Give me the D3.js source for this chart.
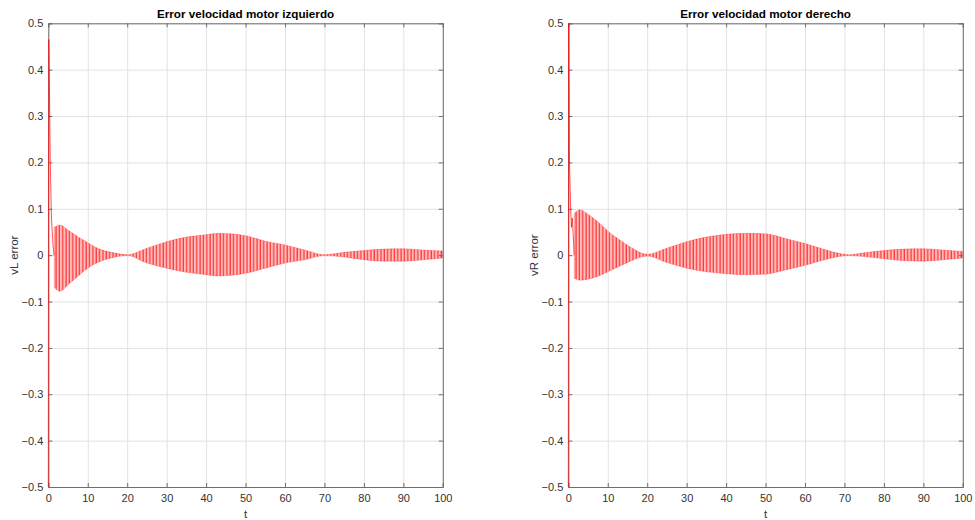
<!DOCTYPE html>
<html>
<head>
<meta charset="utf-8">
<script src="https://cdn.jsdelivr.net/npm/d3@7"></script>
<style>
  body { margin: 0; background: #fff; }
  svg { font-family: "Liberation Sans", Arial, sans-serif; }
  .tick text { fill: #333; font-size: 11px; }
  .grid line { stroke: #e2e2e2; }
  .grid path { display: none; }
  .box path, .box line { stroke: #6e6e6e; }
</style>
</head>
<body>
<script>
// ticks
const tTicks = [0, 10, 20, 30, 40, 50, 60, 70, 80, 90, 100];
const eTicks = [-0.5, -0.4, -0.3, -0.2, -0.1, 0, 0.1, 0.2, 0.3, 0.4, 0.5];

// left motor: start-up transient, then envelope of the oscillation
const leftTransT = [0, 0.05, 0.12, 0.3, 0.5, 0.8, 1.2, 1.5];
const leftTransV = [-0.5, 0.2, 0.465, 0.35, 0.2, 0.08, 0.02, 0.0];
const leftEnvT = [1.5, 3, 5, 8, 10, 13, 16, 20, 25, 30, 35, 40, 43, 50, 55, 60, 65, 70, 75, 80, 85, 90, 95, 100];
const leftUpper = [0.06, 0.065, 0.054, 0.037, 0.027, 0.013, 0.006, 0.001, 0.015, 0.029, 0.039, 0.044, 0.047, 0.042, 0.03, 0.022, 0.011, 0.001, 0.006, 0.01, 0.013, 0.014, 0.011, 0.009];
const leftLower = [-0.07, -0.078, -0.064, -0.042, -0.028, -0.014, -0.006, -0.001, -0.017, -0.028, -0.037, -0.042, -0.045, -0.039, -0.028, -0.017, -0.01, -0.001, -0.004, -0.01, -0.013, -0.013, -0.01, -0.006];

// right motor
const rightTransT = [0, 0.05, 0.1, 0.3, 0.6, 0.8, 1.0, 1.2, 1.5];
const rightTransV = [-0.5, 0.1, 0.5, 0.2, 0.1, 0.06, 0.08, 0.05, 0.0];
const rightEnvT = [1.5, 3, 5, 8, 10, 13, 16, 20, 25, 30, 35, 40, 45, 50, 55, 60, 65, 71, 75, 80, 85, 90, 95, 100];
const rightUpper = [0.09, 0.098, 0.088, 0.068, 0.052, 0.033, 0.016, 0.002, 0.015, 0.029, 0.039, 0.045, 0.047, 0.046, 0.036, 0.025, 0.012, 0.001, 0.005, 0.01, 0.013, 0.014, 0.011, 0.008];
const rightLower = [-0.05, -0.054, -0.052, -0.044, -0.036, -0.024, -0.012, -0.002, -0.016, -0.028, -0.036, -0.04, -0.042, -0.041, -0.032, -0.022, -0.01, -0.001, -0.003, -0.008, -0.012, -0.013, -0.01, -0.006];

const panels = [
    {left: 48.3, title: 'Error velocidad motor izquierdo', ylabel: 'vL error',
        transT: leftTransT, transV: leftTransV, envT: leftEnvT, upper: leftUpper, lower: leftLower},
    {left: 568.3, title: 'Error velocidad motor derecho', ylabel: 'vR error',
        transT: rightTransT, transV: rightTransV, envT: rightEnvT, upper: rightUpper, lower: rightLower}
];

const marginTop = 23.3, width = 394.5, height = 463.7;

const svg = d3.select('body').append('svg')
    .attr('width', 975)
    .attr('height', 520);

const defs = svg.append('defs');

// dense oscillation rendered as vertical strokes
const pat = defs.append('pattern')
    .attr('id', 'osc')
    .attr('patternUnits', 'userSpaceOnUse')
    .attr('width', 3.35)
    .attr('height', 520);
pat.append('rect')
    .attr('width', 3.35)
    .attr('height', 520)
    .attr('fill', '#ffbcbc');
pat.append('line')
    .attr('x1', 1).attr('x2', 1)
    .attr('y1', 0).attr('y2', 520)
    .attr('stroke', '#ff1414')
    .attr('stroke-width', 1);

panels.forEach((p, k) => {
    const x = d3.scaleLinear().domain([0, 100]).range([0, width]);
    const y = d3.scaleLinear().domain([-0.5, 0.5]).range([height, 0]);

    defs.append('clipPath')
        .attr('id', 'clip' + k)
        .append('rect')
        .attr('x', -1.5)
        .attr('width', width + 1.5)
        .attr('height', height);

    const g = svg.append('g')
        .attr('transform', `translate(${p.left}, ${marginTop})`);

    g.append('g')
        .attr('class', 'grid')
        .call(d3.axisBottom(x).tickValues(tTicks).tickSize(height).tickFormat(''));
    g.append('g')
        .attr('class', 'grid')
        .call(d3.axisLeft(y).tickValues(eTicks).tickSize(-width).tickFormat(''));

    const env = p.envT.map((t, i) => ({t, hi: p.upper[i], lo: p.lower[i]}));
    const area = d3.area()
        .curve(d3.curveMonotoneX)
        .x(d => x(d.t))
        .y0(d => y(d.lo))
        .y1(d => y(d.hi));

    g.append('path')
        .datum(env)
        .attr('d', area)
        .attr('fill', 'url(#osc)')
        .attr('stroke', 'rgba(255,0,0,0.35)')
        .attr('stroke-width', 0.7);

    g.append('g')
        .attr('class', 'box')
        .attr('transform', `translate(0, ${height})`)
        .call(d3.axisBottom(x).tickValues(tTicks).tickSize(-4).tickPadding(7));
    g.append('g')
        .attr('class', 'box')
        .call(d3.axisLeft(y).tickValues(eTicks).tickSize(-4).tickPadding(5)
            .tickFormat(d => d === 0 ? '0' : d3.format('.1f')(d)));
    g.append('g')
        .attr('class', 'box')
        .call(d3.axisTop(x).tickValues(tTicks).tickSize(-4).tickFormat(''));
    g.append('g')
        .attr('class', 'box')
        .attr('transform', `translate(${width}, 0)`)
        .call(d3.axisRight(y).tickValues(eTicks).tickSize(-4).tickFormat(''));

    g.selectAll('.box').attr('font-family', null).attr('font-size', null);

    // start-up transient drawn over the left axis line
    const trans = p.transT.map((t, i) => ({t, v: p.transV[i]}));
    g.append('g')
        .attr('clip-path', `url(#clip${k})`)
        .append('path')
        .datum(trans)
        .attr('d', d3.line().x(d => x(d.t)).y(d => y(d.v)))
        .attr('fill', 'none')
        .attr('stroke', '#ff0000')
        .attr('stroke-width', 0.9)
        .attr('stroke-opacity', 0.75);

    g.append('text')
        .attr('x', width / 2)
        .attr('y', -5)
        .attr('text-anchor', 'middle')
        .attr('font-size', 11.7)
        .attr('font-weight', 'bold')
        .attr('fill', '#000')
        .text(p.title);

    g.append('text')
        .attr('x', width / 2)
        .attr('y', height + 31)
        .attr('text-anchor', 'middle')
        .attr('font-size', 11.5)
        .attr('fill', '#333')
        .text('t');

    g.append('text')
        .attr('transform', `translate(${-30}, ${height / 2}) rotate(-90)`)
        .attr('text-anchor', 'middle')
        .attr('font-size', 11.5)
        .attr('fill', '#333')
        .text(p.ylabel);
});
</script>
</body>
</html>
